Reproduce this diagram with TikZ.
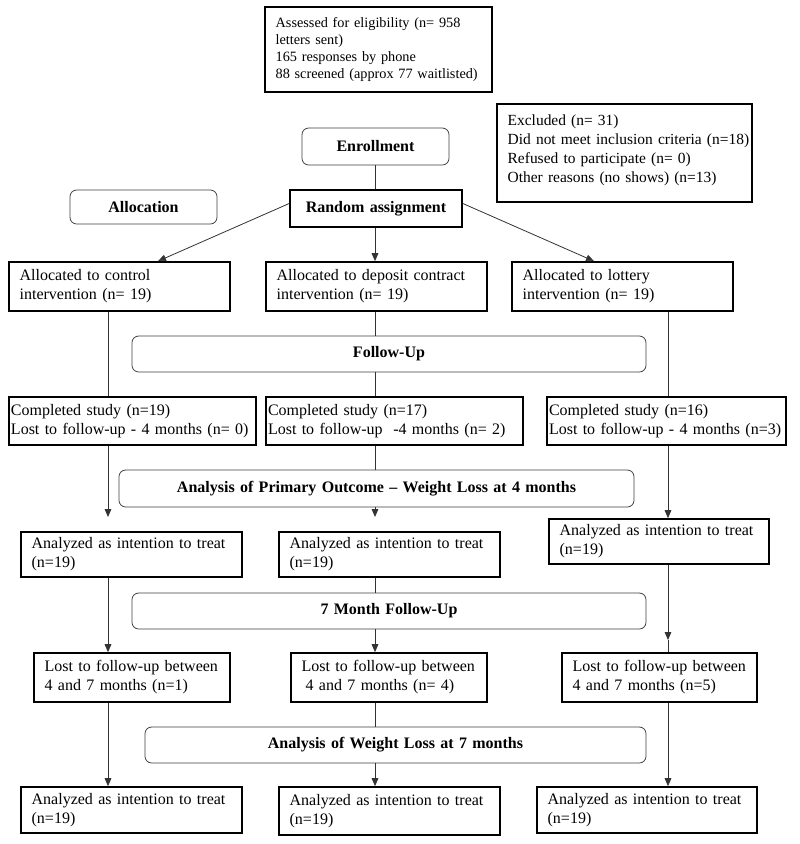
\documentclass[tikz,border=0pt]{standalone}
\usepackage{fontspec}
\setmainfont{Liberation Serif}
\usetikzlibrary{arrows.meta,calc}
\newcommand\mkbox[7][]{%
  \node[#1,minimum width={(#5-#3)*0.75pt},minimum height={(#6-#4)*0.75pt},
        text width={(#5-#3)*0.75pt-2*\pgfkeysvalueof{/pgf/inner xsep}}]
        (#2) at ({(#3+#5)/2},{(#4+#6)/2}) {#7};}
\begin{document}
\begin{tikzpicture}[x=0.75pt,y=-0.75pt,
  sq/.style={draw=black,line width=1.25pt,rectangle,inner xsep=8pt,inner ysep=0pt,
    align=left,font=\fontsize{12}{14.25}\selectfont},
  rb/.style={draw=black!75,line width=0.6pt,rectangle,rounded corners=5pt,inner sep=0pt,
    align=center,font=\fontsize{12}{14}\selectfont\bfseries},
  ln/.style={draw=black!80,line width=0.6pt},
  arr/.style={ln,-{Triangle[length=6pt,width=5pt]}}]
\fill[white] (0,0) rectangle (800,844);
\useasboundingbox (0,0) rectangle (800,844);
% columns
\coordinate (cA) at (108,0);
\coordinate (cB) at (375,0);
\coordinate (cC) at (668,0);
% top
\mkbox[sq,inner xsep=8pt,font=\fontsize{10.7}{12.75}\selectfont]{top}{265}{7}{492}{92}{\mbox{Assessed for eligibility (n= 958}\\letters sent)\\165 responses by phone\\\mbox{88 screened (approx 77 waitlisted)}}
\mkbox[sq,inner xsep=8pt,font=\fontsize{11.6}{14.25}\selectfont]{excl}{497}{104}{752}{202}{Excluded (n= 31)\\\mbox{Did not meet inclusion criteria (n=18)}\\Refused to participate (n= 0)\\\mbox{Other reasons (no shows) (n=13)}\\[-7pt]\mbox{}}
\mkbox[rb]{enr}{302}{128}{449}{165}{Enrollment}
\mkbox[rb]{alc}{70}{190}{217}{224}{Allocation}
\mkbox[sq,rounded corners=0pt,align=center,font=\fontsize{12}{14}\selectfont\bfseries]{ra}{290}{190}{462}{227}{Random assignment}
% allocated
\mkbox[sq]{a1}{9}{262}{230}{311}{Allocated to control\\intervention (n= 19)}
\mkbox[sq]{a2}{266}{262}{487}{311}{Allocated to deposit contract\\intervention (n= 19)}
\mkbox[sq]{a3}{512}{262}{733}{311}{Allocated to lottery\\intervention (n= 19)}
\mkbox[rb]{fu}{132}{336}{646}{372}{Follow-Up}
% completed
\mkbox[sq,inner xsep=1.5pt]{c1}{9}{397}{256}{445}{Completed study (n=19)\\\mbox{Lost to follow-up - 4 months (n= 0)}}
\mkbox[sq,inner xsep=1.5pt]{c2}{266}{397}{523}{445}{Completed study (n=17)\\\mbox{Lost to follow-up~ -4 months (n= 2)}}
\mkbox[sq,inner xsep=1.5pt]{c3}{547}{397}{786}{445}{Completed study (n=16)\\\mbox{Lost to follow-up - 4 months (n=3)}}
\mkbox[rb]{ap}{119}{470}{634}{507}{Analysis of Primary Outcome -- Weight Loss at 4 months}
% analyzed 4 months
\mkbox[sq]{d1}{21}{532}{242}{577}{Analyzed as intention to treat\\(n=19)}
\mkbox[sq]{d2}{279}{532}{500}{577}{Analyzed as intention to treat\\(n=19)}
\mkbox[sq]{d3}{549}{519}{769}{564}{Analyzed as intention to treat\\(n=19)}
\mkbox[rb]{sf}{132}{593}{646}{629}{7 Month Follow-Up}
% lost
\mkbox[sq]{l1}{34}{653}{230}{702}{Lost to follow-up between\\4 and 7 months (n=1)}
\mkbox[sq]{l2}{291}{653}{487}{702}{Lost to follow-up between\\\hspace*{0.25em}4 and 7 months (n= 4)}
\mkbox[sq]{l3}{562}{653}{757}{702}{Lost to follow-up between\\4 and 7 months (n=5)}
\mkbox[rb]{aw}{145}{727}{646}{763}{Analysis of Weight Loss at 7 months}
% final
\mkbox[sq]{f1}{21}{787}{242}{833}{Analyzed as intention to treat\\(n=19)}
\mkbox[sq]{f2}{279}{787}{500}{835}{Analyzed as intention to treat\\(n=19)}
\mkbox[sq]{f3}{537}{787}{757}{833}{Analyzed as intention to treat\\(n=19)}
% free ends
\coordinate (t1) at (108,517);
\coordinate (t2) at (375,517);
\coordinate (t3) at (668,640);
% connectors
\draw[ln] (enr.south -| cB) -- (ra.north -| cB);
\draw[arr] ($(ra.west)+(0,-5)$) -- (a1.north -| 158,0);
\draw[arr] (ra.south -| cB) -- (a2.north -| cB);
\draw[arr] ($(ra.east)+(0,-5)$) -- (a3.north -| 594,0);
\draw[ln] (a1.south -| cA) -- (c1.north -| cA);
\draw[ln] (a2.south -| cB) -- (fu.north -| cB);
\draw[ln] (fu.south -| cB) -- (c2.north -| cB);
\draw[ln] (a3.south -| cC) -- (c3.north -| cC);
\draw[arr] (c1.south -| cA) -- (t1);
\draw[ln] (c2.south -| cB) -- (ap.north -| cB);
\draw[arr] (ap.south -| cB) -- (t2);
\draw[arr] (c3.south -| cC) -- (d3.north -| cC);
\draw[arr] (d1.south -| cA) -- (l1.north -| cA);
\draw[ln] (d2.south -| cB) -- (sf.north -| cB);
\draw[arr] (sf.south -| cB) -- (l2.north -| cB);
\draw[arr] (d3.south -| cC) -- (t3);
\draw[ln] (t3) -- (l3.north -| cC);
\draw[arr] (l1.south -| cA) -- (f1.north -| cA);
\draw[ln] (l2.south -| cB) -- (aw.north -| cB);
\draw[arr] (aw.south -| cB) -- (f2.north -| cB);
\draw[arr] (l3.south -| cC) -- (f3.north -| cC);
\end{tikzpicture}
\end{document}
